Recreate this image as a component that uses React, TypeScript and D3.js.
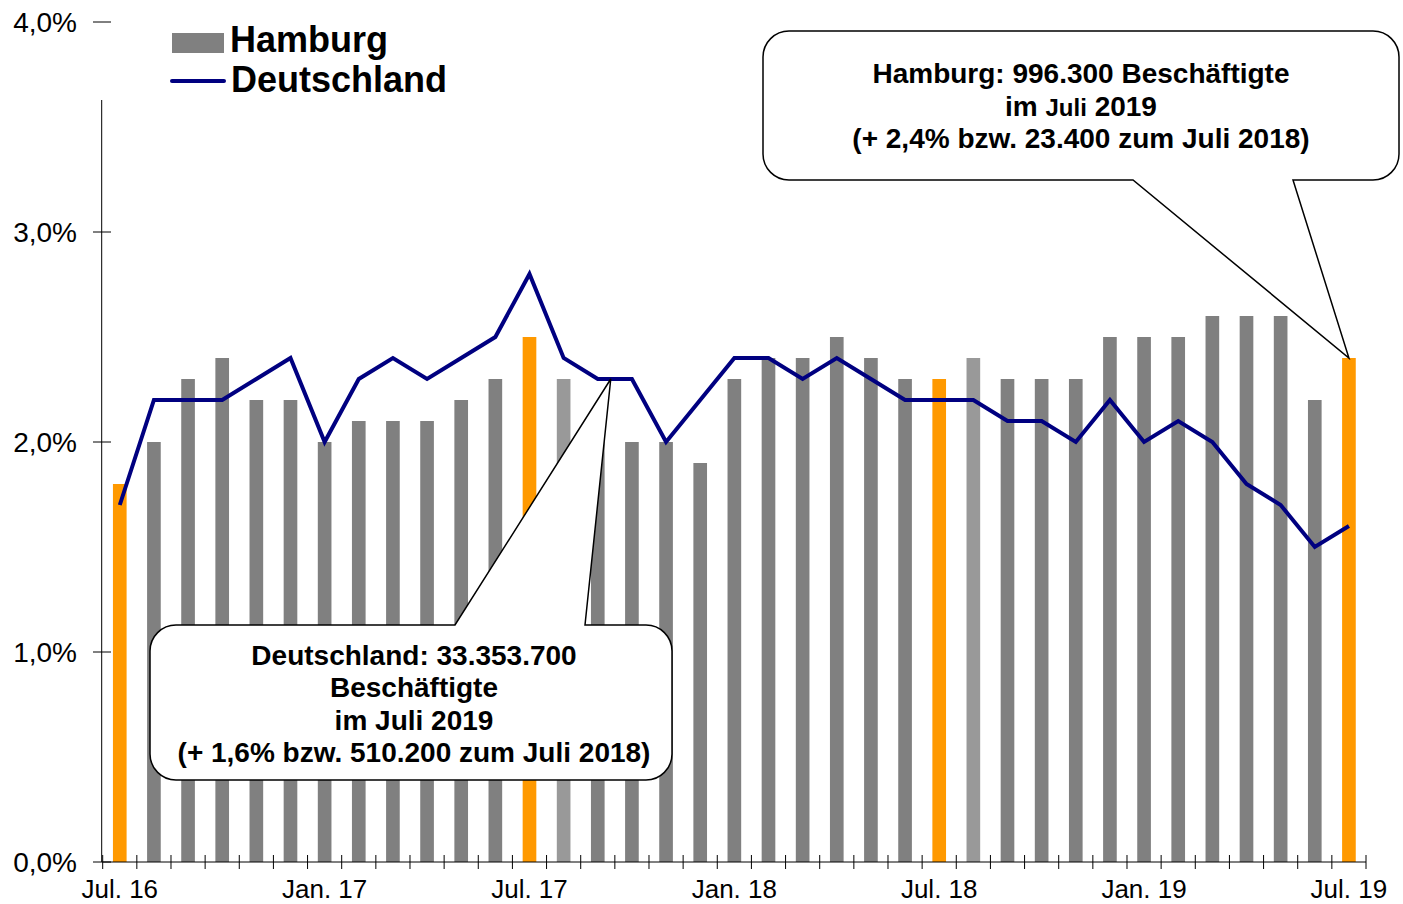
import React from 'react';
import * as d3 from 'd3';

// Monthly change vs. same month of previous year, in percent
const months = [
  'Jul. 16', 'Aug. 16', 'Sep. 16', 'Okt. 16', 'Nov. 16', 'Dez. 16',
  'Jan. 17', 'Feb. 17', 'Mär. 17', 'Apr. 17', 'Mai. 17', 'Jun. 17',
  'Jul. 17', 'Aug. 17', 'Sep. 17', 'Okt. 17', 'Nov. 17', 'Dez. 17',
  'Jan. 18', 'Feb. 18', 'Mär. 18', 'Apr. 18', 'Mai. 18', 'Jun. 18',
  'Jul. 18', 'Aug. 18', 'Sep. 18', 'Okt. 18', 'Nov. 18', 'Dez. 18',
  'Jan. 19', 'Feb. 19', 'Mär. 19', 'Apr. 19', 'Mai. 19', 'Jun. 19',
  'Jul. 19',
];

const hamburg = [
  1.8, 2.0, 2.3, 2.4, 2.2, 2.2,
  2.0, 2.1, 2.1, 2.1, 2.2, 2.3,
  2.5, 2.3, 2.0, 2.0, 2.0, 1.9,
  2.3, 2.4, 2.4, 2.5, 2.4, 2.3,
  2.3, 2.4, 2.3, 2.3, 2.3, 2.5,
  2.5, 2.5, 2.6, 2.6, 2.6, 2.2,
  2.4,
];

const deutschland = [
  1.7, 2.2, 2.2, 2.2, 2.3, 2.4,
  2.0, 2.3, 2.4, 2.3, 2.4, 2.5,
  2.8, 2.4, 2.3, 2.3, 2.0, 2.2,
  2.4, 2.4, 2.3, 2.4, 2.3, 2.2,
  2.2, 2.2, 2.1, 2.1, 2.0, 2.2,
  2.0, 2.1, 2.0, 1.8, 1.7, 1.5,
  1.6,
];

const xLabels = ['Jul. 16', 'Jan. 17', 'Jul. 17', 'Jan. 18', 'Jul. 18', 'Jan. 19', 'Jul. 19'];
const yTicks = [0, 1, 2, 3, 4];
const lightBars = ['Aug. 17', 'Aug. 18'];

const hamburgNote = ['Hamburg: 996.300 Beschäftigte', 'im |Juli| 2019', '(+ 2,4% bzw. 23.400 zum Juli 2018)'];
const deutschlandNote = ['Deutschland: 33.353.700', 'Beschäftigte', 'im Juli 2019', '(+ 1,6% bzw. 510.200 zum Juli 2018)'];

const W = 1403;
const H = 904;
const FONT = '"Liberation Sans", Arial, sans-serif';

const ORANGE = '#ff9900';
const GRAY = '#808080';
const LIGHT = '#999999';
const NAVY = '#000080';

// rounded box whose outline runs out to a pointer tip on one side
function calloutPath(
  x0: number, y0: number, x1: number, y1: number, r: number,
  side: 'top' | 'bottom', a: number, b: number, tip: [number, number],
) {
  const p = d3.path();
  p.moveTo(x0 + r, y0);
  if (side === 'top') {
    p.lineTo(a, y0);
    p.lineTo(tip[0], tip[1]);
    p.lineTo(b, y0);
  }
  p.lineTo(x1 - r, y0);
  p.arcTo(x1, y0, x1, y0 + r, r);
  p.lineTo(x1, y1 - r);
  p.arcTo(x1, y1, x1 - r, y1, r);
  if (side === 'bottom') {
    p.lineTo(b, y1);
    p.lineTo(tip[0], tip[1]);
    p.lineTo(a, y1);
  }
  p.lineTo(x0 + r, y1);
  p.arcTo(x0, y1, x0, y1 - r, r);
  p.lineTo(x0, y0 + r);
  p.arcTo(x0, y0, x0 + r, y0, r);
  p.closePath();
  return p.toString();
}

export default function App() {
  const x = d3.scaleBand<string>().domain(months).range([102.7, 1366]).padding(0);
  const y = d3.scaleLinear().domain([0, 4]).range([862, 22]);
  const bw = x.bandwidth();
  const barW = bw * 0.4;
  const cx = (m: string) => (x(m) ?? 0) + bw / 2;

  const line = d3.line<number>()
    .x((_, i) => cx(months[i]))
    .y(d => y(d))
    .curve(d3.curveLinear);

  const boundaries = d3.range(months.length + 1).map(i => x.range()[0] + i * bw);

  const last = months.length - 1;
  const hamTip: [number, number] = [cx(months[last]), y(hamburg[last])];
  const sep17 = months.indexOf('Sep. 17');
  const deTip: [number, number] = [cx(months[sep17]) + bw * 0.38, y(deutschland[sep17])];

  const barColor = (m: string) =>
    m.startsWith('Jul') ? ORANGE : lightBars.includes(m) ? LIGHT : GRAY;

  return (
    <div style={{ position: 'absolute', left: 0, top: 0 }}>
      <svg width={W} height={H} style={{ display: 'block', background: '#fff' }} fontFamily={FONT}>
        {/* bars */}
        {months.map((m, i) => (
          <rect
            key={m}
            x={cx(m) - barW / 2}
            y={y(hamburg[i])}
            width={barW}
            height={y(0) - y(hamburg[i])}
            fill={barColor(m)}
          />
        ))}

        {/* line */}
        <path d={line(deutschland) ?? ''} fill="none" stroke={NAVY} strokeWidth={4} strokeLinejoin="miter" />

        {/* y axis */}
        <line x1={101.7} x2={101.7} y1={100} y2={y(0)} stroke="#000" strokeWidth={1} />
        {yTicks.map(t => (
          <g key={t}>
            <line x1={93} x2={111} y1={y(t)} y2={y(t)} stroke="#000" strokeWidth={1} />
            <text x={77} y={y(t) + 10} textAnchor="end" fontSize={28} fill="#000">
              {d3.format('.1f')(t).replace('.', ',') + '%'}
            </text>
          </g>
        ))}

        {/* x axis */}
        <line x1={x.range()[0]} x2={x.range()[1]} y1={y(0)} y2={y(0)} stroke="#000" strokeWidth={1} />
        {boundaries.map((b, i) => (
          <line key={i} x1={b} x2={b} y1={y(0) - 7} y2={y(0) + 7} stroke="#000" strokeWidth={1} />
        ))}
        {xLabels.map(l => (
          <text key={l} x={cx(l)} y={898} textAnchor="middle" fontSize={26} fill="#000">{l}</text>
        ))}

        {/* legend */}
        <rect x={172} y={33} width={52} height={20} fill={GRAY} />
        <line x1={172} x2={224} y1={81} y2={81} stroke={NAVY} strokeWidth={4} strokeLinecap="round" />
        <text x={230} y={52} fontSize={36} fontWeight="bold" fill="#000">Hamburg</text>
        <text x={231} y={92} fontSize={36} fontWeight="bold" fill="#000">Deutschland</text>

        {/* Hamburg callout */}
        <path
          d={calloutPath(763, 31, 1399, 180, 26, 'bottom', 1133, 1293, hamTip)}
          fill="#fff"
          stroke="#000"
          strokeWidth={1.5}
        />
        {hamburgNote.map((s, i) => {
          const parts = s.split('|');
          return (
            <text key={i} x={1081} y={83 + i * 32.5} textAnchor="middle" fontSize={28} fontWeight="bold" fill="#000">
              {parts.length === 3 ? (
                <>
                  {parts[0]}
                  <tspan fontSize={24}>{parts[1]}</tspan>
                  {parts[2]}
                </>
              ) : s}
            </text>
          );
        })}

        {/* Deutschland callout */}
        <path
          d={calloutPath(150, 625, 672, 780, 26, 'top', 455, 585, deTip)}
          fill="#fff"
          stroke="#000"
          strokeWidth={1.5}
        />
        {deutschlandNote.map((s, i) => (
          <text key={i} x={414} y={665 + i * 32.3} textAnchor="middle" fontSize={28} fontWeight="bold" fill="#000">
            {s}
          </text>
        ))}
      </svg>
    </div>
  );
}
